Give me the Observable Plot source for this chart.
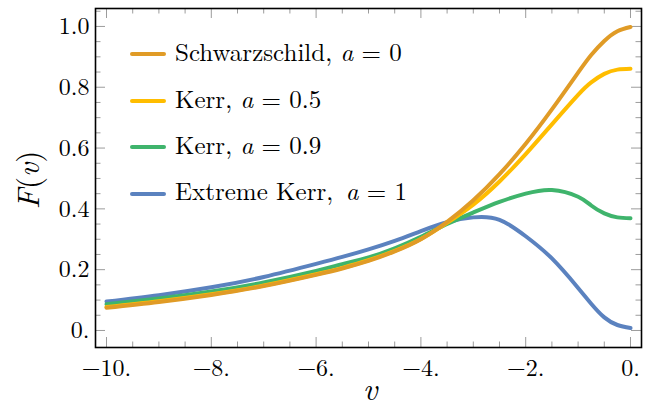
<!DOCTYPE html>
<html><head><meta charset="utf-8">
<script src="https://cdn.jsdelivr.net/npm/d3@7"></script>
<script src="https://cdn.jsdelivr.net/npm/@observablehq/plot@0.6"></script>
<style>
body{margin:0;background:#fff;}
#wrap{position:relative;width:648px;height:403px;color:#000;overflow:hidden;}
#wrap svg{position:absolute;left:0;top:0;}
#wrap svg text{font-family:'Latin Modern Roman';}
.lab{position:absolute;white-space:nowrap;line-height:1;font-family:'Latin Modern Roman';}
.sw{position:absolute;height:4px;border-radius:2px;}
</style></head><body><div id="wrap"></div>
<script>
// data
const v = [-10, -9, -8, -7, -6, -5.5, -5, -4.5, -4, -3.5, -3, -2.5, -2, -1.5, -1, -0.75, -0.5, -0.25, 0];
const schwarzschild = [0.075, 0.094, 0.117, 0.146, 0.183, 0.204, 0.229, 0.260, 0.300, 0.357, 0.428, 0.514, 0.614, 0.727, 0.848, 0.906, 0.952, 0.984, 0.998];
const kerr05 = [0.077, 0.096, 0.119, 0.148, 0.185, 0.206, 0.231, 0.262, 0.301, 0.354, 0.414, 0.490, 0.580, 0.678, 0.775, 0.816, 0.844, 0.858, 0.861];
const kerr09 = [0.086, 0.105, 0.128, 0.158, 0.196, 0.218, 0.240, 0.270, 0.308, 0.350, 0.388, 0.423, 0.450, 0.462, 0.440, 0.411, 0.385, 0.372, 0.369];
const extremeKerr = [0.095, 0.116, 0.142, 0.176, 0.219, 0.242, 0.267, 0.295, 0.327, 0.356, 0.372, 0.364, 0.310, 0.237, 0.140, 0.088, 0.043, 0.018, 0.008];

const seriesLabels = ["Schwarzschild, <i>a</i> = 0", "Kerr, <i>a</i> = 0.5", "Kerr, <i>a</i> = 0.9", "Extreme Kerr,&#8198; <i>a</i> = 1"];
const seriesColors = ["#E09B26", "#FFBD00", "#3FB46C", "#5B82BF"];

const xMajor = [-10, -8, -6, -4, -2, 0];
const xMinor = [-9.5, -9, -8.5, -7.5, -7, -6.5, -5.5, -5, -4.5, -3.5, -3, -2.5, -1.5, -1, -0.5];
const yMajor = [0, 0.2, 0.4, 0.6, 0.8, 1.0];
const yMinor = [0.05, 0.1, 0.15, 0.25, 0.3, 0.35, 0.45, 0.5, 0.55, 0.65, 0.7, 0.75, 0.85, 0.9, 0.95, 1.05];
const xTickLabels = ["\u221210.", "\u22128.", "\u22126.", "\u22124.", "\u22122.", "0."];
const yTickLabels = ["0.", "0.2", "0.4", "0.6", "0.8", "1.0"];

const W = 648, H = 403, mL = 95, mR = 7, mT = 8, mB = 56;
const fW = W - mL - mR, fH = H - mT - mB;
const majL = 10, minL = 5.5, tickColor = "#9c9c9c";
const FONT = "Latin Modern Roman";
const BASE = 0.94; // baseline offset (em) for line-height 1

const series = [schwarzschild, kerr05, kerr09, extremeKerr];
const toRows = (ys) => v.map((x, i) => ({v: x, F: ys[i]}));
const drawOrder = [3, 2, 1, 0];

const plot = Plot.plot({
  width: W, height: H,
  marginLeft: mL, marginRight: mR, marginTop: mT, marginBottom: mB,
  style: {fontFamily: FONT, fontSize: "24px", color: "#000", background: "#fff"},
  x: {domain: [-10.21, 0.21]},
  y: {domain: [-0.056, 1.059]},
  marks: [
    Plot.tickX(xMajor, {x: d => d, insetTop: fH - majL, stroke: tickColor}),
    Plot.tickX(xMinor, {x: d => d, insetTop: fH - minL, stroke: tickColor}),
    Plot.tickX(xMajor, {x: d => d, insetBottom: fH - majL, stroke: tickColor}),
    Plot.tickX(xMinor, {x: d => d, insetBottom: fH - minL, stroke: tickColor}),
    Plot.tickY(yMajor, {y: d => d, insetRight: fW - majL, stroke: tickColor}),
    Plot.tickY(yMinor, {y: d => d, insetRight: fW - minL, stroke: tickColor}),
    Plot.tickY(yMajor, {y: d => d, insetLeft: fW - majL, stroke: tickColor}),
    Plot.tickY(yMinor, {y: d => d, insetLeft: fW - minL, stroke: tickColor}),
    Plot.axisX(xMajor, {tickSize: 0, tickPadding: 11, tickFormat: d => xTickLabels[xMajor.indexOf(d)], label: null, fontFamily: FONT}),
    Plot.axisY(yMajor, {tickSize: 0, tickPadding: 6, tickFormat: d => yTickLabels[yMajor.indexOf(d)], label: null, fontFamily: FONT}),
    ...drawOrder.map(i => Plot.line(toRows(series[i]), {x: "v", y: "F", stroke: seriesColors[i], strokeWidth: 4, curve: "natural"})),
    Plot.frame({stroke: "#000", strokeWidth: 1.6})
  ]
});

const wrap = document.getElementById("wrap");
wrap.appendChild(plot);

// legend
const legTop = 54.3, legStep = 46.4, fs = 25;
seriesLabels.forEach((lab, i) => {
  const cy = legTop + i * legStep;
  const sw = document.createElement("div");
  sw.className = "sw";
  sw.style.cssText += `left:130px;top:${cy - 2}px;width:36px;background:${seriesColors[i]};`;
  wrap.appendChild(sw);
  const t = document.createElement("div");
  t.className = "lab";
  t.style.cssText += `left:175px;top:${cy + 7.4 - BASE * fs}px;font-size:${fs}px;font-family:'Latin Modern Roman';`;
  t.innerHTML = lab;
  wrap.appendChild(t);
});

// axis titles
const yl = document.createElement("div");
yl.className = "lab";
yl.style.cssText += "left:26px;top:180px;font-size:31px;font-family:'Latin Modern Roman';transform:translate(-50%,-50%) rotate(-90deg);";
yl.innerHTML = "<i>F</i>(<i>v</i>)";
wrap.appendChild(yl);

const xl = document.createElement("div");
xl.className = "lab";
xl.style.cssText += `left:370px;top:${401 - (BASE - 0.1) * 32}px;font-size:32px;line-height:0.8;font-family:'Latin Modern Roman';transform:translateX(-50%);`;
xl.innerHTML = "<i>v</i>";
wrap.appendChild(xl);
</script></body></html>
